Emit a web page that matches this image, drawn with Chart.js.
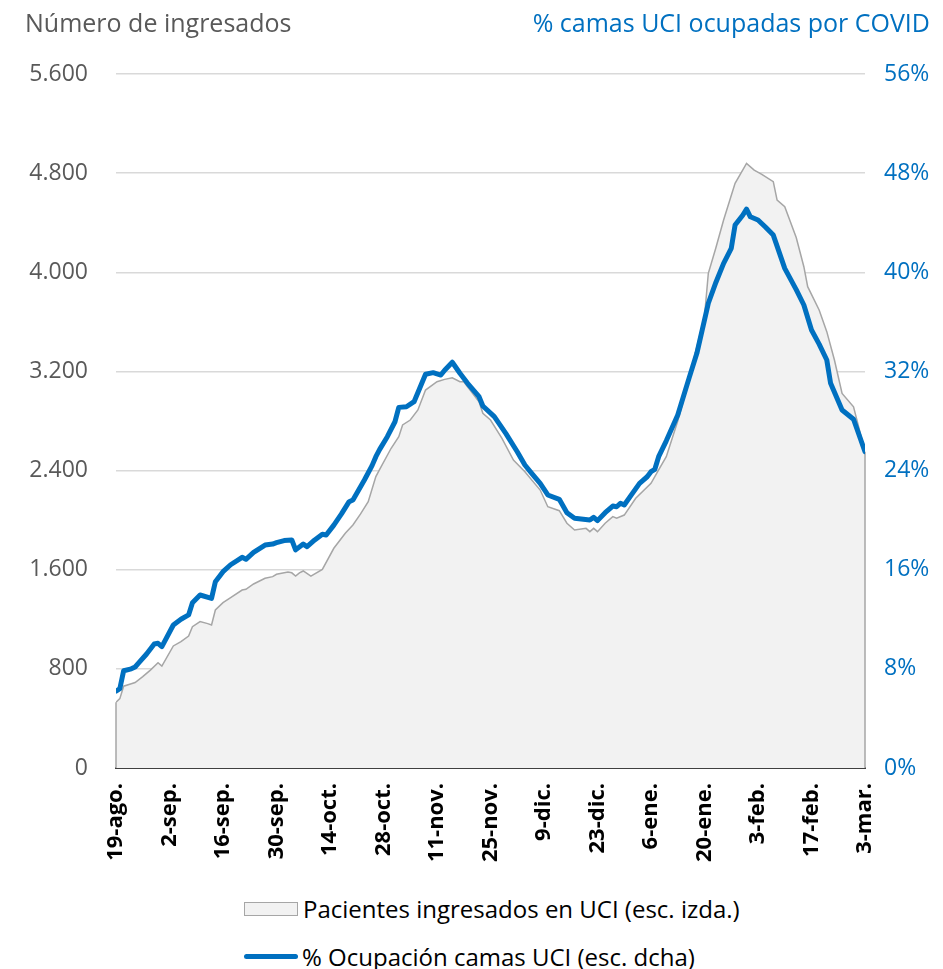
<!DOCTYPE html>
<html lang="es">
<head>
<meta charset="utf-8">
<title>Ocupación UCI COVID</title>
<script src="https://cdn.jsdelivr.net/npm/chart.js@4.4.1/dist/chart.umd.min.js"></script>
<style>
  body { margin: 0; background: #fff; font-family: "Open Sans", sans-serif; }
  #wrap { position: relative; width: 943px; height: 969px; }
  #chart { position: absolute; left: 0; top: 0; }
  .titulo { position: absolute; top: 5px; font-size: 25px; white-space: nowrap; }
  #tituloIzq { left: 25px; color: #595959; }
  #tituloDer { right: 13px; color: #0070C0; }
  .leyenda { position: absolute; left: 244px; font-size: 24px; color: #000; white-space: nowrap; display: flex; align-items: center; }
  .caja { width: 52px; height: 12px; background: #F2F2F2; border: 1px solid #A6A6A6; margin-right: 5px; }
  .linea { width: 54px; height: 5px; background: #0070C0; border-radius: 3px; margin-right: 4px; }
</style>
</head>
<body>
<div id="wrap">
  <canvas id="chart" width="943" height="870"></canvas>
  <div class="titulo" id="tituloIzq">Número de ingresados</div>
  <div class="titulo" id="tituloDer">% camas UCI ocupadas por COVID</div>
  <div id="leyenda"></div>
</div>
<script>
// Fechas de las marcas del eje X (cada 14 días desde el 19-ago.)
const etiquetas = ['19-ago.', '2-sep.', '16-sep.', '30-sep.', '14-oct.', '28-oct.', '11-nov.',
  '25-nov.', '9-dic.', '23-dic.', '6-ene.', '20-ene.', '3-feb.', '17-feb.', '3-mar.'];

// Pacientes ingresados en UCI (días desde el 19-ago.)
const diasIngresados = [0, 1, 2, 4, 5, 7, 9, 11, 12, 15, 17, 19, 20, 22, 24, 25, 26, 28, 30, 33,
  34, 36, 39, 41, 42, 45, 46, 47, 48, 49, 51, 54, 57, 60, 62, 64, 66, 68, 69, 72,
  74, 75, 77, 79, 81, 84, 86, 88, 90, 91, 93, 95, 96, 98, 101, 104, 107, 111, 113, 116,
  118, 120, 123, 124, 125, 126, 128, 130, 131, 133, 136, 140, 142, 144, 147, 149, 152, 154, 155, 157,
  159, 162, 165, 167, 169, 172, 173, 175, 178, 180, 181, 184, 186, 188, 190, 193, 196];
const ingresados = [530, 560, 660, 680, 690, 737, 790, 850, 823, 985, 1020, 1065, 1140, 1181, 1165, 1154, 1275, 1334, 1375, 1436,
  1442, 1485, 1531, 1544, 1563, 1582, 1575, 1549, 1575, 1590, 1549, 1603, 1773, 1894, 1961, 2050, 2149, 2351, 2410, 2580,
  2673, 2768, 2808, 2889, 3050, 3117, 3136, 3149, 3117, 3117, 3036, 2956, 2862, 2808, 2660, 2485, 2391, 2243, 2108, 2076,
  1975, 1920, 1934, 1907, 1934, 1907, 1975, 2028, 2015, 2041, 2176, 2297, 2405, 2512, 2800, 3023, 3400, 3642, 3992, 4200,
  4422, 4718, 4879, 4825, 4790, 4731, 4583, 4529, 4280, 4045, 3884, 3696, 3521, 3292, 3023, 2915, 2552];

// % ocupación de camas UCI por COVID
const diasOcupacion = [0, 1, 2, 4, 5, 6, 8, 10, 11, 12, 15, 17, 19, 20, 22, 25, 26, 28, 30, 33,
  34, 36, 39, 41, 42, 44, 46, 47, 49, 50, 52, 54, 55, 57, 59, 61, 62, 65, 67, 68,
  69, 71, 73, 74, 76, 78, 81, 83, 85, 86, 88, 90, 92, 95, 96, 99, 102, 105, 107, 109,
  111, 113, 116, 118, 120, 124, 125, 126, 128, 130, 131, 132, 133, 135, 137, 139, 140, 141, 142, 144,
  147, 150, 152, 155, 157, 159, 161, 162, 164, 165, 166, 168, 170, 172, 175, 178, 180, 182, 184, 186,
  187, 190, 193, 196];
const ocupacion = [6.2, 6.4, 7.85, 8.0, 8.15, 8.5, 9.2, 10.0, 10.06, 9.79, 11.54, 12.0, 12.35, 13.34, 13.96, 13.69, 15.03, 15.84, 16.4, 17.0,
  16.84, 17.4, 17.99, 18.07, 18.18, 18.35, 18.4, 17.6, 18.07, 17.86, 18.4, 18.86, 18.8, 19.6, 20.5, 21.49, 21.63, 23.24, 24.4, 25.12,
  25.71, 26.73, 27.94, 29.1, 29.15, 29.56, 31.77, 31.9, 31.71, 32.1, 32.74, 31.85, 31.04, 29.96, 29.21, 28.35, 27.0, 25.52, 24.45, 23.7,
  22.97, 22.03, 21.68, 20.6, 20.15, 20.01, 20.23, 19.96, 20.6, 21.14, 21.08, 21.36, 21.22, 22.1, 22.97, 23.5, 23.91, 24.1, 25.12, 26.4,
  28.48, 31.5, 33.46, 37.5, 39.2, 40.72, 41.93, 43.81, 44.6, 45.1, 44.48, 44.22, 43.63, 43.0, 40.32, 38.6, 37.36, 35.34, 34.2, 32.92,
  31.04, 28.89, 28.14, 25.52];

const AZUL = '#0070C0';
const GRIS = '#595959';

// bordes verticales del área en los extremos, como en Excel
const bordesArea = {
  id: 'bordesArea',
  afterDatasetDraw(chart, args) {
    if (args.index !== 1) return;
    const { ctx } = chart;
    const x = chart.scales.x, y = chart.scales.y;
    const pts = chart.data.datasets[1].data;
    const ini = pts[0], fin = pts[pts.length - 1];
    ctx.save();
    ctx.strokeStyle = '#A6A6A6';
    ctx.lineWidth = 1.5;
    ctx.beginPath();
    ctx.moveTo(x.getPixelForValue(ini.x), y.getPixelForValue(0));
    ctx.lineTo(x.getPixelForValue(ini.x), y.getPixelForValue(ini.y));
    ctx.moveTo(x.getPixelForValue(fin.x), y.getPixelForValue(0));
    ctx.lineTo(x.getPixelForValue(fin.x), y.getPixelForValue(fin.y));
    ctx.stroke();
    ctx.restore();
  }
};

const chart = new Chart(document.getElementById('chart'), {
  type: 'line',
  data: {
    datasets: [{
      label: '% Ocupación camas UCI (esc. dcha)',
      data: diasOcupacion.map((d, i) => ({ x: d, y: ocupacion[i] })),
      yAxisID: 'y1',
      borderColor: AZUL,
      borderWidth: 5,
      borderCapStyle: 'round',
      borderJoinStyle: 'round',
      pointRadius: 0,
      tension: 0,
      fill: false,
      order: 0
    }, {
      label: 'Pacientes ingresados en UCI (esc. izda.)',
      data: diasIngresados.map((d, i) => ({ x: d, y: ingresados[i] })),
      yAxisID: 'y',
      borderColor: '#A6A6A6',
      backgroundColor: '#F2F2F2',
      borderWidth: 1.5,
      pointRadius: 0,
      tension: 0,
      fill: 'origin',
      order: 1
    }]
  },
  options: {
    responsive: false,
    animation: false,
    layout: { padding: { top: 74, bottom: 0, left: 0, right: 0 } },
    plugins: {
      legend: { display: false },
      tooltip: { enabled: false }
    },
    scales: {
      x: {
        type: 'linear',
        min: 0,
        max: 196,
        afterBuildTicks(scale) {
          scale.ticks = etiquetas.map((_, i) => ({ value: i * 14 }));
        },
        afterFit(scale) { scale.height = 102; },
        ticks: {
          autoSkip: false,
          minRotation: 90,
          maxRotation: 90,
          padding: 15,
          color: '#000',
          font: { family: 'Open Sans', size: 22, weight: 'bold' },
          callback: (v) => etiquetas[Math.round(v / 14)]
        },
        grid: { display: false, drawTicks: false },
        border: { display: true, color: '#404040', width: 2 }
      },
      y: {
        position: 'left',
        min: 0,
        max: 5600,
        afterFit(scale) { scale.width = 116; },
        ticks: {
          stepSize: 800,
          padding: 28,
          color: GRIS,
          font: { family: 'Open Sans', size: 23 },
          callback: (v) => v.toLocaleString('de-DE')
        },
        grid: { color: '#D9D9D9', lineWidth: 1.5, drawTicks: false },
        border: { display: false }
      },
      y1: {
        position: 'right',
        min: 0,
        max: 56,
        afterFit(scale) { scale.width = 78; },
        ticks: {
          stepSize: 8,
          padding: 19,
          color: AZUL,
          font: { family: 'Open Sans', size: 23 },
          callback: (v) => v + '%'
        },
        grid: { display: false, drawTicks: false },
        border: { display: false }
      }
    }
  },
  plugins: [bordesArea]
});

// Leyenda en dos filas, debajo del gráfico
const leyenda = document.getElementById('leyenda');
[[1, 'caja', 892], [0, 'linea', 940]].forEach(([i, tipo, top]) => {
  const item = document.createElement('div');
  item.className = 'leyenda';
  item.style.top = top + 'px';
  item.innerHTML = '<span class="' + tipo + '"></span><span>' + chart.data.datasets[i].label + '</span>';
  leyenda.appendChild(item);
});
</script>
</body>
</html>
